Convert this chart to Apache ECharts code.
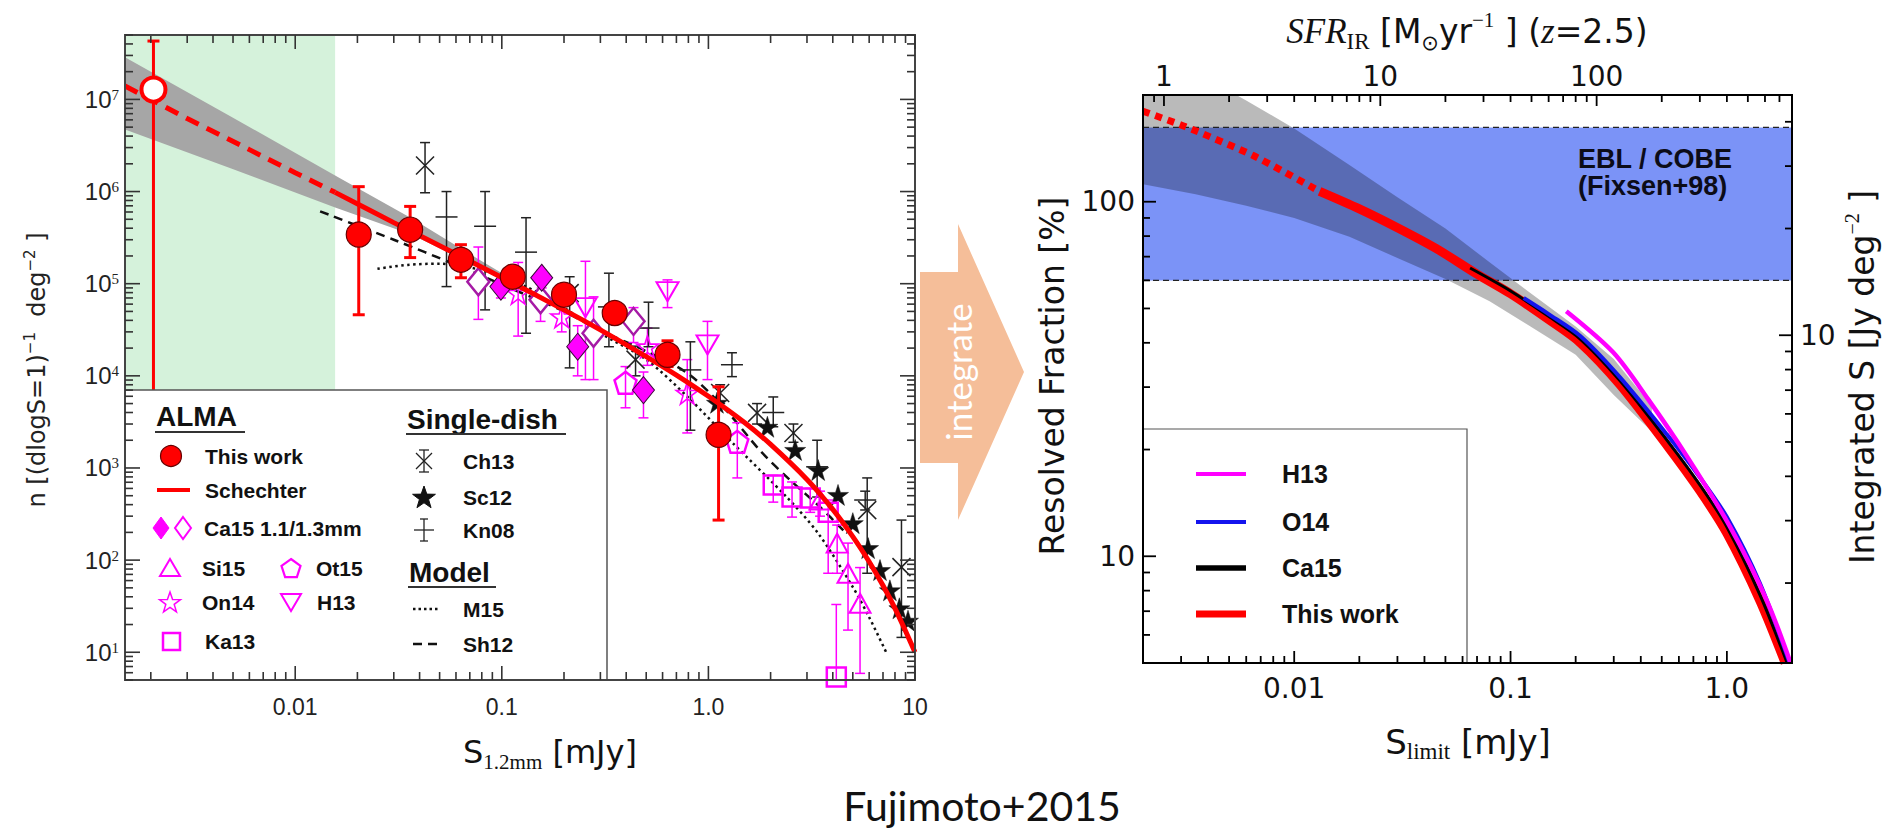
<!DOCTYPE html>
<html>
<head>
<meta charset="utf-8">
<title>Fujimoto+2015</title>
<script src="https://cdn.jsdelivr.net/npm/echarts@6.0.0/dist/echarts.min.js"></script>
<style>
html,body{margin:0;padding:0;background:#ffffff;}
#chart{width:1886px;height:832px;}
</style>
</head>
<body>
<div id="chart"></div>
<script>
// ======================= DATA =======================
// ---------- Left panel: number counts  n [(dlogS=1)^-1 deg^-2]  vs  S_1.2mm [mJy]
const leftXRange = [0.0015, 10];
const leftYRange = [5, 5e7];
const leftXMajor = [0.01, 0.1, 1, 10];
const leftXLabels = ['0.01', '0.1', '1.0', '10'];
const leftYMajor = [10, 100, 1000, 1e4, 1e5, 1e6, 1e7];
const leftYExps = ['1', '2', '3', '4', '5', '6', '7'];
const greenRegion = [0.0015, 0.0156];

const schechterDashed = [[0.0015,1.40e7],[0.003,6.2e6],[0.006,2.85e6],[0.01,1.6e6],[0.0156,9.8e5]];
const schechterSolid = [[0.0156,9.8e5],[0.03,4.6e5],[0.06,2.1e5],[0.1,1.17e5],[0.2,5.2e4],[0.3,3.15e4],[0.5,1.62e4],[0.7,1.02e4],[1.0,6.0e3],[1.5,3.1e3],[2.0,1.8e3],[3.0,750],[4.0,355],[5.0,180],[6.0,96],[7.0,53],[8.0,30],[9.0,17],[10,10]];
const bandS  = [0.0015, 0.0049, 0.0156, 0.0367, 0.074, 0.12];
const bandHi = [2.87e7, 6.5e6, 1.49e6, 5.1e5, 1.95e5, 1.02e5];
const bandLo = [4.7e6, 1.78e6, 6.7e5, 3.4e5, 1.58e5, 8.9e4];
const sh12 = [[0.0132,6.1e5],[0.03,3.0e5],[0.06,1.6e5],[0.1,9.8e4],[0.2,5.0e4],[0.3,3.1e4],[0.5,1.85e4],[0.8,1.05e4],[1.2,4.4e3],[1.8,1.5e3],[2.5,730],[3.5,370],[4.5,210]];
const m15 = [[0.025,1.45e5],[0.035,1.6e5],[0.05,1.65e5],[0.07,1.5e5],[0.1,1.2e5],[0.15,8.0e4],[0.2,5.5e4],[0.3,2.9e4],[0.5,1.5e4],[0.8,5.8e3],[1.3,1.9e3],[2.4,480],[3.4,195],[5.0,51],[6.0,24],[7.3,9.7]];

// points: [S, n, upper, lower]
const thisWorkOpen = [[0.00206,1.28e7,4.3e7,5]];
const thisWork = [[0.0203,3.41e5,1.13e6,4.6e4],[0.036,3.86e5,6.9e5,1.92e5],[0.0634,1.82e5,2.65e5,1.16e5],[0.113,1.19e5,1.45e5,9.5e4],[0.20,7.6e4,9.0e4,6.3e4],[0.352,4.8e4,5.6e4,4.0e4],[0.634,1.69e4,2.4e4,1.26e4],[1.12,2.29e3,7.6e3,272]];
const ca15Filled = [[0.099,9.3e4,1.2e5,7.0e4],[0.156,1.16e5,1.4e5,9.0e4],[0.233,2.07e4,3.5e4,1.0e4],[0.485,7.0e3,1.1e4,3.5e3]];
const ca15Open = [[0.077,1.05e5,2.5e5,4.1e4],[0.154,6.7e4,1.0e5,3.9e4],[0.278,2.9e4,7.2e4,9.1e3],[0.434,3.9e4,5.5e4,2.3e4]];
const on14 = [[0.12,7.9e4,1.7e5,2.7e4],[0.195,4.4e4,6.5e4,3.0e4],[0.507,2.07e4,3.3e4,1.3e4],[0.79,6.5e3,1.5e4,2.4e3]];
const h13 = [[0.254,5.5e4,1.75e5,9.1e3],[0.634,8.2e4,1.1e5,5.5e4],[0.99,2.17e4,3.9e4,9.1e3]];
const ot15 = [[0.397,8.4e3,1.26e4,4.5e3],[1.38,1.92e3,3.1e3,780]];
const ka13 = [[2.06,653,830,426],[2.54,484,705,293],[3.11,472,600,330],[3.8,331,449,72],[4.16,5.4,33,5]];
const si15 = [[3.47,449,560,300],[4.2,153,240,72],[4.74,72,153,17.4],[5.42,34,83,5.9]];
const ch13 = [[0.0425,1.92e6,3.4e6,9.7e5],[0.213,7.9e4,1.19e5,1.22e4],[0.444,1.5e4,2.1e4,1.0e4],[1.14,6.5e3,8.0e3,5.0e3],[1.72,3.96e3,5.0e3,3.0e3],[2.58,2.4e3,3.0e3,1.9e3],[5.87,349,780,72],[8.6,84,272,14.5]];
const sc12 = [[1.1,5.1e3],[1.93,2.8e3],[2.63,1.57e3],[3.4,950],[4.24,510],[5.0,252],[5.93,135],[6.77,78],[7.56,47],[8.4,30],[9.25,22]];
const kn08 = [[0.054,5.3e5,1.0e6,9.3e4],[0.083,4.2e5,1.0e6,5.2e4],[0.131,2.2e5,5.2e5,2.9e4],[0.33,5.6e4,1.3e5,2.07e4],[0.513,3.3e4,6.3e4,2.07e4],[0.818,1.16e4,2.34e4,2.57e3],[1.3,1.32e4,1.78e4,9.8e3],[2.06,4.0e3,5.9e3,2.8e3],[3.36,1.03e3,2.0e3,484],[5.74,449,560,350]];

// ---------- Right panel: resolved fraction [%] vs S_limit [mJy]
const rightXRange = [0.002, 2];
const rightYRange = [5, 200];
const sfrRange = [0.8, 800];
const intSRange = [1.19, 47.6];
const rightXMajor = [0.01, 0.1, 1];
const rightXLabels = ['0.01', '0.1', '1.0'];
const sfrMajor = [1, 10, 100];
const sfrLabels = ['1', '10', '100'];
const rightYMajor = [10, 100];
const rightYLabels = ['10', '100'];
const intSMajor = [10];
const intSLabels = ['10'];
const eblRange = [60, 162];
const bandRS  = [0.002, 0.0035, 0.006, 0.01, 0.018, 0.03, 0.05, 0.08, 0.12, 0.2, 0.3, 0.45];
const bandRHi = [284, 232, 193, 161, 127, 103, 84, 67.5, 56, 44.5, 36, 26.5];
const bandRLo = [112, 105, 97.4, 90, 79.6, 69.4, 60.5, 52.4, 45, 37, 28.5, 22.5];
const twDotted = [[0.002,180],[0.00313,163],[0.00646,135],[0.0131,107]];
const twSolid = [[0.0131,107],[0.02,95.5],[0.03,84.5],[0.045,74],[0.07,62.5],[0.1,55],[0.15,46.5],[0.21,40],[0.32,30.5],[0.53,20.5],[0.75,15.3],[1.0,11.6],[1.42,7.5],[1.86,5]];
const ca15Line = [[0.065,65],[0.1,56],[0.15,47.5],[0.21,41],[0.32,31.3],[0.53,21.2],[0.75,15.9],[1.0,12.1],[1.42,7.8],[1.9,5]];
const o14Line = [[0.115,53.5],[0.15,48.2],[0.21,41.8],[0.32,32],[0.53,22],[0.75,16.7],[1.0,12.9],[1.42,8.4],[1.95,5]];
const h13Line = [[0.181,49.1],[0.298,37.6],[0.433,27.7],[0.655,19.1],[1.035,12.1],[1.53,7.5],[1.97,5]];

// ======================= HELPERS =======================
const FONT_B = 'Liberation Sans, Arial, Helvetica, sans-serif';
const FONT_D = 'DejaVu Sans, Verdana, sans-serif';
const FONT_S = 'Liberation Serif, Times New Roman, serif';
const FONT_C = 'Lato, Open Sans, sans-serif';
const MAG = '#ff00ff';

function near(a, b) { return Math.abs(Math.log10(a) - Math.log10(b)) < 1e-4; }
function findIdx(arr, v) { for (let i = 0; i < arr.length; i++) if (near(arr[i], v)) return i; return -1; }
function decadeTicks(lo, hi) {
  const out = [];
  for (let e = -4; e <= 8; e++) for (let k = 1; k <= 9; k++) {
    const v = +(k * Math.pow(10, e)).toPrecision(6);
    if (v >= lo * 0.9999 && v <= hi * 1.0001) out.push(v);
  }
  return out;
}
function labelFmt(majors, labels) { return function (v) { const i = findIdx(majors, v); return i < 0 ? '' : labels[i]; }; }
function logAxis(extra) {
  return Object.assign({type: 'log', logBase: 10, axisLine: {show: false}, axisTick: {show: false},
    splitLine: {show: false}, minorTick: {show: false}, minorSplitLine: {show: false}}, extra);
}
function rectRender(x0, x1, y0, y1, fill) {
  return function (params, api) {
    const a = api.coord([x0, y0]), b = api.coord([x1, y1]);
    return {type: 'rect', shape: {x: Math.min(a[0], b[0]), y: Math.min(a[1], b[1]), width: Math.abs(b[0] - a[0]), height: Math.abs(b[1] - a[1])}, style: {fill: fill}};
  };
}
function bandRender(xs, hi, lo, fill) {
  return function (params, api) {
    const pts = [];
    for (let i = 0; i < xs.length; i++) pts.push(api.coord([xs[i], hi[i]]));
    for (let i = xs.length - 1; i >= 0; i--) pts.push(api.coord([xs[i], lo[i]]));
    return {type: 'polygon', shape: {points: pts}, style: {fill: fill}};
  };
}
function hlineRender(xr, vals, stroke, w, dash) {
  return function (params, api) {
    const v = vals[params.dataIndex];
    const a = api.coord([xr[0], v]), b = api.coord([xr[1], v]);
    return {type: 'line', shape: {x1: a[0], y1: a[1], x2: b[0], y2: b[1]}, style: {stroke: stroke, lineWidth: w, lineDash: dash}};
  };
}
function errRender(arr, o) {
  return function (params, api) {
    const d = arr[params.dataIndex];
    const p = api.coord([d[0], d[1]]), ph = api.coord([d[0], d[2]]), pl = api.coord([d[0], d[3]]);
    const st = {stroke: o.color, lineWidth: o.w};
    const c = o.cap / 2, x = p[0];
    const ch = [
      {type: 'line', shape: {x1: x, y1: ph[1], x2: x, y2: pl[1]}, style: st},
      {type: 'line', shape: {x1: x - c, y1: ph[1], x2: x + c, y2: ph[1]}, style: st},
      {type: 'line', shape: {x1: x - c, y1: pl[1], x2: x + c, y2: pl[1]}, style: st}
    ];
    if (o.mid === 'bar') ch.push({type: 'line', shape: {x1: x - o.m, y1: p[1], x2: x + o.m, y2: p[1]}, style: st});
    if (o.mid === 'x') {
      ch.push({type: 'line', shape: {x1: x - o.m, y1: p[1] - o.m, x2: x + o.m, y2: p[1] + o.m}, style: st});
      ch.push({type: 'line', shape: {x1: x + o.m, y1: p[1] - o.m, x2: x - o.m, y2: p[1] + o.m}, style: st});
    }
    return {type: 'group', children: ch};
  };
}
function custom(xi, yi, data, render, z, clip) {
  return {type: 'custom', xAxisIndex: xi, yAxisIndex: yi, data: data, renderItem: render, z: z, silent: true, clip: clip !== false};
}
function tickSeries(o) {
  return {
    type: 'custom', xAxisIndex: o.xi, yAxisIndex: o.yi, z: 60, silent: true, clip: false,
    data: o.vals.map(v => o.dir === 'x' ? [v, o.ref] : [o.ref, v]),
    renderItem: function (params, api) {
      const cs = params.coordSys;
      const v = o.vals[params.dataIndex];
      const p = api.coord(o.dir === 'x' ? [v, o.ref] : [o.ref, v]);
      const L = findIdx(o.majors, v) >= 0 ? o.lenMaj : o.lenMin;
      const st = {stroke: o.color, lineWidth: o.width};
      const ch = [];
      o.sides.forEach(s => {
        if (s === 'bottom') ch.push({type: 'line', shape: {x1: p[0], y1: cs.y + cs.height, x2: p[0], y2: cs.y + cs.height - L}, style: st});
        if (s === 'top') ch.push({type: 'line', shape: {x1: p[0], y1: cs.y, x2: p[0], y2: cs.y + L}, style: st});
        if (s === 'left') ch.push({type: 'line', shape: {x1: cs.x, y1: p[1], x2: cs.x + L, y2: p[1]}, style: st});
        if (s === 'right') ch.push({type: 'line', shape: {x1: cs.x + cs.width, y1: p[1], x2: cs.x + cs.width - L, y2: p[1]}, style: st});
      });
      if (o.frame && params.dataIndex === 0) ch.push({type: 'rect', shape: {x: cs.x, y: cs.y, width: cs.width, height: cs.height}, style: {fill: 'none', stroke: o.frame, lineWidth: 2}});
      return {type: 'group', children: ch};
    }
  };
}
function pts(d) { return d.map(r => [r[0], r[1]]); }
function scatter(xi, yi, data, symbol, size, style, z) {
  return {type: 'scatter', xAxisIndex: xi, yAxisIndex: yi, data: pts(data), symbol: symbol, symbolSize: size,
    itemStyle: Object.assign({opacity: 1}, style), z: z, silent: true, emphasis: {disabled: true}};
}
function line(xi, yi, data, color, width, type, z, smooth) {
  return {type: 'line', xAxisIndex: xi, yAxisIndex: yi, data: data, symbol: 'none', showSymbol: false, silent: true,
    smooth: smooth == null ? 0.3 : smooth, lineStyle: {color: color, width: width, type: type || 'solid', cap: 'butt'}, z: z, emphasis: {disabled: true}};
}

const STAR = 'path://M50,0L61.2,34.5L97.6,34.5L68.2,55.9L79.4,90.5L50,69.1L20.6,90.5L31.8,55.9L2.4,34.5L38.8,34.5Z';
const PENT = 'path://M50,0L97.6,34.5L79.4,90.5L20.6,90.5L2.4,34.5Z';
const TRIDOWN = 'path://M0,0L100,0L50,86.6Z';
const CLEAR = 'rgba(0,0,0,0)';

// ----- graphic helpers (legend, titles, arrow) -----
const G = [];
function T(x, y, text, size, o) {
  o = o || {};
  const st = {text: text, fill: o.color || '#111', fontSize: size, fontFamily: o.family || FONT_B,
    fontWeight: o.weight || 'normal', align: o.align || 'left', verticalAlign: 'middle'};
  if (o.rich) st.rich = o.rich;
  if (o.lh) st.lineHeight = o.lh;
  return {type: 'text', x: x, y: y, rotation: o.rot || 0, z: o.z || 55, silent: true, style: st};
}
function Ln(x1, y1, x2, y2, color, w, dash) {
  const st = {stroke: color, lineWidth: w};
  if (dash) st.lineDash = dash;
  return {type: 'line', z: 55, silent: true, shape: {x1: x1, y1: y1, x2: x2, y2: y2}, style: st};
}
function Pg(points, fill, stroke, w) { return {type: 'polygon', z: 55, silent: true, shape: {points: points}, style: {fill: fill, stroke: stroke, lineWidth: w}}; }
function starPts(cx, cy, R) { const p = []; for (let i = 0; i < 10; i++) { const r = i % 2 ? R * 0.4 : R; const a = -Math.PI / 2 + i * Math.PI / 5; p.push([cx + r * Math.cos(a), cy + r * Math.sin(a)]); } return p; }
function pentPts(cx, cy, R) { const p = []; for (let i = 0; i < 5; i++) { const a = -Math.PI / 2 + i * 2 * Math.PI / 5; p.push([cx + R * Math.cos(a), cy + R * Math.sin(a)]); } return p; }
function diaPts(cx, cy, w, h) { return [[cx, cy - h], [cx + w, cy], [cx, cy + h], [cx - w, cy]]; }

// Left legend
G.push({type: 'rect', z: 50, silent: true, shape: {x: 125, y: 390, width: 482, height: 290}, style: {fill: '#fff', stroke: '#555', lineWidth: 1.5}});
G.push(T(156, 416, 'ALMA', 28, {weight: 'bold'}));
G.push(Ln(155, 432, 245, 432, '#333', 2));
G.push({type: 'circle', z: 55, silent: true, shape: {cx: 171, cy: 456, r: 10.5}, style: {fill: '#ff0000', stroke: '#600', lineWidth: 1.2}});
G.push(T(205, 456, 'This work', 21, {weight: 'bold'}));
G.push(Ln(157, 490, 190, 490, '#ff0000', 4));
G.push(T(205, 490, 'Schechter', 21, {weight: 'bold'}));
G.push(Pg(diaPts(161, 528, 8, 11), MAG, MAG, 1));
G.push(Pg(diaPts(183, 528, 8, 11), '#fff', MAG, 2));
G.push(T(204, 528, 'Ca15 1.1/1.3mm', 21, {weight: 'bold'}));
G.push(Pg([[170, 559], [180, 576], [160, 576]], 'none', MAG, 2));
G.push(T(202, 568, 'Si15', 21, {weight: 'bold'}));
G.push(Pg(pentPts(291, 569, 10), 'none', MAG, 2.2));
G.push(T(316, 568, 'Ot15', 21, {weight: 'bold'}));
G.push(Pg(starPts(170, 603, 11), 'none', MAG, 1.5));
G.push(T(202, 602, 'On14', 21, {weight: 'bold'}));
G.push(Pg([[281, 594], [301, 594], [291, 611]], 'none', MAG, 2));
G.push(T(317, 602, 'H13', 21, {weight: 'bold'}));
G.push({type: 'rect', z: 55, silent: true, shape: {x: 163, y: 633, width: 17, height: 17}, style: {fill: 'none', stroke: MAG, lineWidth: 2.5}});
G.push(T(205, 641, 'Ka13', 21, {weight: 'bold'}));
G.push(T(407, 419, 'Single-dish', 28, {weight: 'bold'}));
G.push(Ln(406, 434, 566, 434, '#333', 2));
G.push(Ln(424, 450, 424, 472, '#222', 1.3), Ln(419, 450, 429, 450, '#222', 1.3), Ln(419, 472, 429, 472, '#222', 1.3),
       Ln(416, 453, 432, 469, '#222', 1.3), Ln(432, 453, 416, 469, '#222', 1.3));
G.push(T(463, 461, 'Ch13', 21, {weight: 'bold'}));
G.push(Pg(starPts(424, 498, 12), '#111', '#111', 1));
G.push(T(463, 497, 'Sc12', 21, {weight: 'bold'}));
G.push(Ln(424, 519, 424, 541, '#222', 1.3), Ln(420, 519, 428, 519, '#222', 1.3), Ln(420, 541, 428, 541, '#222', 1.3), Ln(414, 530, 434, 530, '#222', 1.3));
G.push(T(463, 530, 'Kn08', 21, {weight: 'bold'}));
G.push(T(409, 572, 'Model', 28, {weight: 'bold'}));
G.push(Ln(408, 587, 496, 587, '#333', 2));
G.push(Ln(413, 609, 438, 609, '#111', 2.5, [2.5, 3]));
G.push(T(463, 609, 'M15', 21, {weight: 'bold'}));
G.push(Ln(413, 644, 440, 644, '#111', 2.5, [9, 6]));
G.push(T(463, 644, 'Sh12', 21, {weight: 'bold'}));

// Right legend
G.push({type: 'rect', z: 50, silent: true, shape: {x: 1143, y: 429, width: 324, height: 234}, style: {fill: '#fff', stroke: '#555', lineWidth: 1.2}});
G.push(Ln(1196, 474, 1246, 474, MAG, 4));
G.push(T(1282, 474, 'H13', 25, {weight: 'bold'}));
G.push(Ln(1196, 522, 1246, 522, '#1414ee', 4));
G.push(T(1282, 522, 'O14', 25, {weight: 'bold'}));
G.push(Ln(1196, 568, 1246, 568, '#000', 5.5));
G.push(T(1282, 568, 'Ca15', 25, {weight: 'bold'}));
G.push(Ln(1196, 614, 1246, 614, '#ff0000', 7));
G.push(T(1282, 614, 'This work', 25, {weight: 'bold'}));

// EBL annotation (two lines in one text)
G.push(T(1578, 172, 'EBL / COBE\n(Fixsen+98)', 27, {weight: 'bold', color: '#0c0c18', lh: 27}));

// Arrow "integrate"
G.push({type: 'polygon', z: 10, silent: true, shape: {points: [[920, 272], [958, 272], [958, 224], [1024, 372], [958, 520], [958, 463], [920, 463]]}, style: {fill: '#f5be99'}});
G.push(T(958, 372, 'integrate', 35, {align: 'center', rot: Math.PI / 2, color: '#ffffff', family: FONT_C, z: 12}));

// Caption
G.push(T(982, 805, 'Fujimoto+2015', 41, {align: 'center', family: FONT_C, color: '#111'}));

// Axis titles
G.push(T(37, 370, '{a|n [(dlogS=1)}{s|−1}{a|  deg}{s|−2}{a| ]}', 24, {align: 'center', rot: Math.PI / 2,
  rich: {a: {fontSize: 24, fontFamily: FONT_D, fill: '#222', lineHeight: 30}, s: {fontSize: 15, fontFamily: FONT_D, fill: '#222', verticalAlign: 'top', lineHeight: 16}}}));
G.push(T(550, 752, '{a|S}{b|1.2mm}{a| [mJy]}', 32, {align: 'center',
  rich: {a: {fontSize: 32, fontFamily: FONT_D, fill: '#111', lineHeight: 40}, b: {fontSize: 21, fontFamily: FONT_S, fill: '#111', verticalAlign: 'bottom', lineHeight: 24}}}));
G.push(T(1468, 742, '{a|S}{b|limit}{a| [mJy]}', 34, {align: 'center',
  rich: {a: {fontSize: 34, fontFamily: FONT_D, fill: '#111', lineHeight: 42}, b: {fontSize: 23, fontFamily: FONT_S, fill: '#111', verticalAlign: 'bottom', lineHeight: 26}}}));
G.push(T(1052, 376, 'Resolved Fraction [%]', 33, {align: 'center', rot: Math.PI / 2, family: FONT_D}));
G.push(T(1862, 377, '{a|Integrated S [Jy deg}{s|−2}{a| ]}', 33, {align: 'center', rot: Math.PI / 2,
  rich: {a: {fontSize: 33, fontFamily: FONT_D, fill: '#111', lineHeight: 40}, s: {fontSize: 20, fontFamily: FONT_S, fill: '#111', verticalAlign: 'top', lineHeight: 22}}}));
G.push(T(1467, 31, '{i|SFR}{sb|IR}{a| [M}{sb2|⊙}{a|yr}{sp|−1}{a| ] (}{i|z}{a|=2.5)}', 33, {align: 'center',
  rich: {i: {fontSize: 35, fontFamily: FONT_S, fontStyle: 'italic', fill: '#111', lineHeight: 44},
         sb: {fontSize: 23, fontFamily: FONT_S, fill: '#111', verticalAlign: 'bottom', lineHeight: 26},
         a: {fontSize: 33, fontFamily: FONT_D, fill: '#111', lineHeight: 44},
         sb2: {fontSize: 21, fontFamily: FONT_D, fill: '#111', verticalAlign: 'bottom', lineHeight: 24},
         sp: {fontSize: 21, fontFamily: FONT_S, fill: '#111', verticalAlign: 'top', lineHeight: 22}}}));

// ======================= OPTION =======================
const MAGERR = {color: MAG, w: 1.5, cap: 10};
const BLKERR = {color: '#222', w: 1.5, cap: 10};
const series = [
  // ----- left panel
  custom(0, 0, [[greenRegion[0], 10]], rectRender(greenRegion[0], greenRegion[1], leftYRange[0], leftYRange[1], '#d5f2db'), 1),
  custom(0, 0, [[bandS[0], bandHi[0]]], bandRender(bandS, bandHi, bandLo, '#a6a6a6'), 2),
  line(0, 0, m15, '#111', 2.5, [2.5, 3.5], 3),
  line(0, 0, sh12, '#111', 2.5, [9, 6], 3),
  custom(0, 0, pts(ca15Open), errRender(ca15Open, MAGERR), 4),
  custom(0, 0, pts(ca15Filled), errRender(ca15Filled, MAGERR), 4),
  custom(0, 0, pts(on14), errRender(on14, MAGERR), 4),
  custom(0, 0, pts(h13), errRender(h13, MAGERR), 4),
  custom(0, 0, pts(ot15), errRender(ot15, MAGERR), 4),
  custom(0, 0, pts(ka13), errRender(ka13, MAGERR), 4),
  custom(0, 0, pts(si15), errRender(si15, MAGERR), 4),
  custom(0, 0, pts(ch13), errRender(ch13, Object.assign({mid: 'x', m: 9}, BLKERR)), 4),
  custom(0, 0, pts(kn08), errRender(kn08, Object.assign({mid: 'bar', m: 11}, BLKERR)), 4),
  scatter(0, 0, sc12, STAR, 21, {color: '#111', borderColor: '#111', borderWidth: 0.5}, 5),
  scatter(0, 0, on14, STAR, 22, {color: CLEAR, borderColor: MAG, borderWidth: 1.6}, 5),
  scatter(0, 0, h13, TRIDOWN, [22, 19], {color: CLEAR, borderColor: MAG, borderWidth: 2}, 5),
  scatter(0, 0, ot15, PENT, 22, {color: CLEAR, borderColor: MAG, borderWidth: 2.5}, 5),
  scatter(0, 0, ka13, 'rect', 19, {color: CLEAR, borderColor: MAG, borderWidth: 2.5}, 5),
  scatter(0, 0, si15, 'triangle', [21, 19], {color: CLEAR, borderColor: MAG, borderWidth: 2}, 5),
  scatter(0, 0, ca15Open, 'diamond', [22, 27], {color: '#ffffff', borderColor: '#a51aa5', borderWidth: 2.5}, 5),
  scatter(0, 0, ca15Filled, 'diamond', [22, 27], {color: MAG, borderColor: '#3a0a3a', borderWidth: 1}, 5),
  line(0, 0, schechterDashed, '#ff0000', 5, [14, 9], 6, 0),
  line(0, 0, schechterSolid, '#ff0000', 5, 'solid', 6),
  custom(0, 0, pts(thisWorkOpen), errRender(thisWorkOpen, {color: '#ff0000', w: 3, cap: 12}), 7),
  custom(0, 0, pts(thisWork), errRender(thisWork, {color: '#ff0000', w: 3, cap: 12}), 7),
  scatter(0, 0, thisWork, 'circle', 25, {color: '#ff0000', borderColor: '#6a0000', borderWidth: 1.2}, 8),
  scatter(0, 0, thisWorkOpen, 'circle', 24, {color: '#ffffff', borderColor: '#ff0000', borderWidth: 4}, 8),
  // ----- right panel
  custom(1, 1, [[rightXRange[0], eblRange[0]]], rectRender(rightXRange[0], rightXRange[1], eblRange[0], eblRange[1], '#7b93f7'), 1),
  custom(1, 1, [[bandRS[0], bandRLo[0]]], bandRender(bandRS, bandRHi, bandRLo, 'rgba(0,0,0,0.27)'), 2),
  custom(1, 1, eblRange.map(v => [rightXRange[0], v]), hlineRender(rightXRange, eblRange, '#222', 1.3, [6, 4]), 3),
  line(1, 1, twDotted, '#ff0000', 7, [7, 6], 4, 0.2),
  line(1, 1, twSolid, '#ff0000', 9, 'solid', 4),
  line(1, 1, ca15Line, '#000000', 3, 'solid', 5),
  line(1, 1, o14Line, '#1414ee', 4, 'solid', 6),
  line(1, 1, h13Line, MAG, 4.5, 'solid', 7),
  // ----- ticks & frames
  tickSeries({xi: 0, yi: 0, dir: 'x', vals: decadeTicks(leftXRange[0], leftXRange[1]), majors: leftXMajor, ref: leftYRange[0], sides: ['bottom', 'top'], lenMaj: 14, lenMin: 8, color: '#333', width: 1.6, frame: '#444'}),
  tickSeries({xi: 0, yi: 0, dir: 'y', vals: decadeTicks(leftYRange[0], leftYRange[1]), majors: leftYMajor, ref: leftXRange[0], sides: ['left', 'right'], lenMaj: 15, lenMin: 8, color: '#333', width: 1.6}),
  tickSeries({xi: 1, yi: 1, dir: 'x', vals: decadeTicks(rightXRange[0], rightXRange[1]), majors: rightXMajor, ref: rightYRange[0], sides: ['bottom'], lenMaj: 12, lenMin: 7, color: '#000', width: 1.8, frame: '#000'}),
  tickSeries({xi: 2, yi: 1, dir: 'x', vals: decadeTicks(sfrRange[0], sfrRange[1]), majors: sfrMajor, ref: rightYRange[0], sides: ['top'], lenMaj: 11, lenMin: 7, color: '#000', width: 1.8}),
  tickSeries({xi: 1, yi: 1, dir: 'y', vals: decadeTicks(rightYRange[0], rightYRange[1]), majors: rightYMajor, ref: rightXRange[0], sides: ['left'], lenMaj: 13, lenMin: 7, color: '#000', width: 1.8}),
  tickSeries({xi: 1, yi: 2, dir: 'y', vals: decadeTicks(intSRange[0], intSRange[1]), majors: intSMajor, ref: rightXRange[0], sides: ['right'], lenMaj: 13, lenMin: 7, color: '#000', width: 1.8})
];

const option = {
  animation: false,
  backgroundColor: '#ffffff',
  grid: [
    {left: 125, top: 35, width: 790, height: 645, containLabel: false, outerBoundsMode: 'none', show: false},
    {left: 1143, top: 95, width: 649, height: 568, containLabel: false, outerBoundsMode: 'none', show: false}
  ],
  xAxis: [
    logAxis({gridIndex: 0, min: leftXRange[0], max: leftXRange[1],
      axisLabel: {formatter: labelFmt(leftXMajor, leftXLabels), fontSize: 23, fontFamily: FONT_B, color: '#222', margin: 15}}),
    logAxis({gridIndex: 1, min: rightXRange[0], max: rightXRange[1],
      axisLabel: {formatter: labelFmt(rightXMajor, rightXLabels), fontSize: 28, fontFamily: FONT_D, color: '#111', margin: 11}}),
    logAxis({gridIndex: 1, position: 'top', min: sfrRange[0], max: sfrRange[1],
      axisLabel: {formatter: labelFmt(sfrMajor, sfrLabels), fontSize: 28, fontFamily: FONT_D, color: '#111', margin: 5}})
  ],
  yAxis: [
    logAxis({gridIndex: 0, min: leftYRange[0], max: leftYRange[1],
      axisLabel: {formatter: function (v) { const i = findIdx(leftYMajor, v); return i < 0 ? '' : '{m|10}{s|' + leftYExps[i] + '}'; },
        margin: 6, rich: {m: {fontSize: 24, fontFamily: FONT_B, color: '#222'}, s: {fontSize: 15, fontFamily: FONT_S, color: '#222', verticalAlign: 'top', lineHeight: 16}}}}),
    logAxis({gridIndex: 1, min: rightYRange[0], max: rightYRange[1],
      axisLabel: {formatter: labelFmt(rightYMajor, rightYLabels), fontSize: 28, fontFamily: FONT_D, color: '#111', margin: 8}}),
    logAxis({gridIndex: 1, position: 'right', min: intSRange[0], max: intSRange[1],
      axisLabel: {formatter: labelFmt(intSMajor, intSLabels), fontSize: 28, fontFamily: FONT_D, color: '#111', margin: 8}})
  ],
  series: series,
  graphic: G
};

const chart = echarts.init(document.getElementById('chart'), null, {renderer: 'svg', width: 1886, height: 832});
chart.setOption(option);
</script>
</body>
</html>
